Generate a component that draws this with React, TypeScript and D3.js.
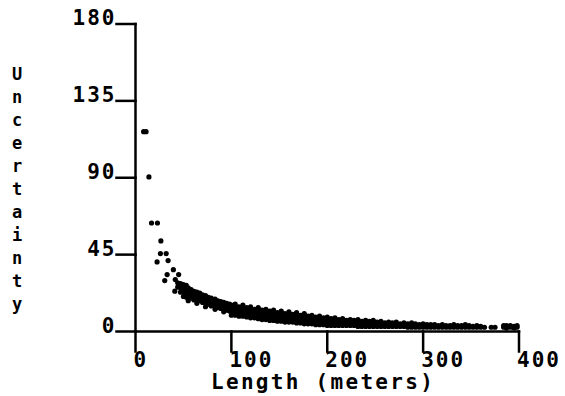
import React from "react";
import * as d3 from "d3";

const yTicks = [0, 45, 90, 135, 180];
const xTicks = [0, 100, 200, 300, 400];
const xTitle = "Length (meters)";
const yTitle = "Uncertainty";

// isolated short-length points
const leadLengths = [8.5, 11, 14, 16.7, 22.9, 26.5, 22.5, 26, 32, 34, 33, 39.5, 30.5, 41.5, 45, 41];
const leadUncert = [117, 117, 90.5, 63.5, 63.5, 53, 40.7, 45.6, 45.6, 41.5, 33.3, 36.2, 29.8, 30.4, 33.3, 23.6];

// dense cloud, by length column
const bandLengths = [
  44, 47, 50, 53, 55, 58, 61, 64, 67, 70, 73, 76, 79, 83, 86, 89, 92, 95, 98, 100,
  104, 108, 112, 116, 120, 124, 128, 132, 136, 140, 144, 148, 152, 156, 160, 164, 168, 172, 176, 180,
  184, 188, 192, 196, 200, 204, 208, 212, 216, 220, 224, 228, 232, 236, 240, 244, 248, 252, 256, 260,
  264, 268, 272, 276, 280, 284, 288, 292, 296, 300, 304, 308, 312, 316, 320, 324, 328, 332, 336, 340,
  344, 348, 352, 356, 360, 364, 371, 375, 384, 387, 391, 395, 398,
];
const bandValues = [
  [26, 28.5], [23, 25.5, 28], [20.5, 23, 25.5, 27.5], [20, 22.5, 25, 27], [18, 20.5, 23, 25.5],
  [19.5, 22, 24.5], [18.5, 21, 23.5], [16.5, 19, 21.5, 23], [18, 20.5, 22.5], [17, 19.5, 21.5],
  [14.5, 17, 19, 21], [16, 18, 20], [15, 17, 19.5], [13, 15, 17, 19], [14, 16, 18],
  [13.5, 15.5, 17.5], [11.5, 13.5, 15.5, 17], [12.5, 14.5, 16.5], [12, 14, 16], [9.5, 11.5, 13.5, 15.5],
  [9.5, 11.5, 13.5, 15, 16], [9, 11, 13, 14.5], [9, 11, 12.5, 14.5, 15.5], [8.5, 10.5, 12, 14], [8, 10, 12, 13.5, 14.5],
  [8, 9.5, 11.5, 13], [7.5, 9.5, 11, 13, 14], [7, 9, 11, 12.5], [7, 9, 10.5, 12, 13], [6.5, 8.5, 10, 12],
  [6.5, 8, 10, 11.5, 12.5], [6, 8, 9.5, 11], [6, 7.5, 9.5, 11, 12], [5.5, 7.5, 9, 10.5], [5.5, 7, 9, 10.5, 11.5],
  [5.5, 7, 8.5, 10], [5, 7, 8.5, 10, 11], [5, 6.5, 8, 9.5], [4.5, 6.5, 8, 9, 10.5], [4.5, 6, 7.5, 9],
  [4.5, 6, 7.5, 8.5, 9.5], [4, 5.5, 7, 8.5], [4, 5.5, 7, 8, 9], [4, 5.5, 7, 8], [3.5, 5, 6.5, 7.5, 8.5],
  [3.5, 5, 6.5, 7.5], [3.5, 5, 6, 7, 8], [3.5, 5, 6, 7], [3.5, 4.5, 6, 7, 7.5], [3.5, 4.5, 5.5, 6.5],
  [3.5, 4.5, 5.5, 6.5, 7], [3.5, 4.5, 5.5, 6.5], [3, 4.5, 5.5, 6, 7], [3, 4, 5.5, 6], [3, 4, 5, 6, 6.5],
  [3, 4, 5, 6], [3, 4, 5, 5.5, 6.5], [3, 4, 5, 5.5], [3, 4, 5, 6], [3, 4, 5],
  [3, 4, 5, 5.5], [3, 4, 5], [3, 4, 4.5, 5.5], [3, 4, 4.5], [3, 4, 4.5, 5],
  [2.5, 3.5, 4.5], [2.5, 3.5, 4.5, 5], [2.5, 3.5, 4.5], [2.5, 3.5, 4], [2.5, 3.5, 4, 4.5],
  [2.5, 3.5, 4], [2.5, 3.5, 4], [2.5, 3.5, 4], [2.5, 3.5], [2.5, 3.5, 4],
  [2.5, 3.5], [2.5, 3.5], [2.5, 3.5, 4], [2.5, 3.5], [2.5, 3.5],
  [2.5, 3, 4], [2.5, 3.5], [2.5, 3], [2.5, 3.5], [2.5, 3],
  [2.5], [2.5], [2.5], [2.5, 3.5], [2, 3.5], [2.5, 3.5], [2, 3], [2.5, 3.5],
];

const W = 565;
const H = 396;
const FONT = "'DejaVu Sans Mono', 'Liberation Mono', monospace";

export default function App() {
  const x = d3.scaleLinear().domain([0, 400]).range([135.5, 519]);
  const y = d3.scaleLinear().domain([0, 180]).range([331.5, 24]);

  const pts: [number, number][] = [];
  leadLengths.forEach((l, i) => pts.push([l, leadUncert[i]]));
  bandLengths.forEach((l, i) => bandValues[i].forEach((v) => pts.push([l, v])));

  const x0 = x(0);
  const y0 = y(0);

  return (
    <svg
      width={W}
      height={H}
      viewBox={`0 0 ${W} ${H}`}
      style={{ position: "absolute", left: 0, top: 0, background: "#fff" }}
    >
      <rect width={W} height={H} fill="#fff" />
      {/* axes */}
      <g stroke="#000" strokeWidth={2.5} fill="none" strokeLinecap="square">
        <line x1={x0} y1={y(180)} x2={x0} y2={y0} />
        <line x1={x0} y1={y0} x2={x(400)} y2={y0} />
        {yTicks.map((t) => (
          <line key={"yt" + t} x1={x0 - 19} y1={y(t)} x2={x0} y2={y(t)} />
        ))}
        {xTicks.map((t) => (
          <line key={"xt" + t} x1={x(t)} y1={y0} x2={x(t)} y2={y0 + 20} />
        ))}
      </g>
      {/* tick labels */}
      <g fontFamily={FONT} fontWeight="bold" fontSize={21} fill="#000">
        {yTicks.map((t) => (
          <text key={"yl" + t} x={x0 - 19} y={y(t) + 1} textAnchor="end" letterSpacing={2}>
            {String(t)}
          </text>
        ))}
        {xTicks.map((t) => (
          <text key={"xl" + t} x={x(t) - 2} y={367} textAnchor="start" letterSpacing={2}>
            {String(t)}
          </text>
        ))}
        <text x={211} y={389} letterSpacing={2.3}>
          {xTitle}
        </text>
      </g>
      {/* vertical y title */}
      <g fontFamily={FONT} fontWeight="bold" fontSize={17} fill="#000" textAnchor="middle">
        {yTitle.split("").map((c, i) => (
          <text key={"yc" + i} x={17} y={80 + i * 23}>
            {c}
          </text>
        ))}
      </g>
      {/* points */}
      <g fill="#000">
        {pts.map((p, i) => (
          <circle key={i} cx={x(p[0])} cy={y(p[1])} r={2.6} />
        ))}
      </g>
    </svg>
  );
}
